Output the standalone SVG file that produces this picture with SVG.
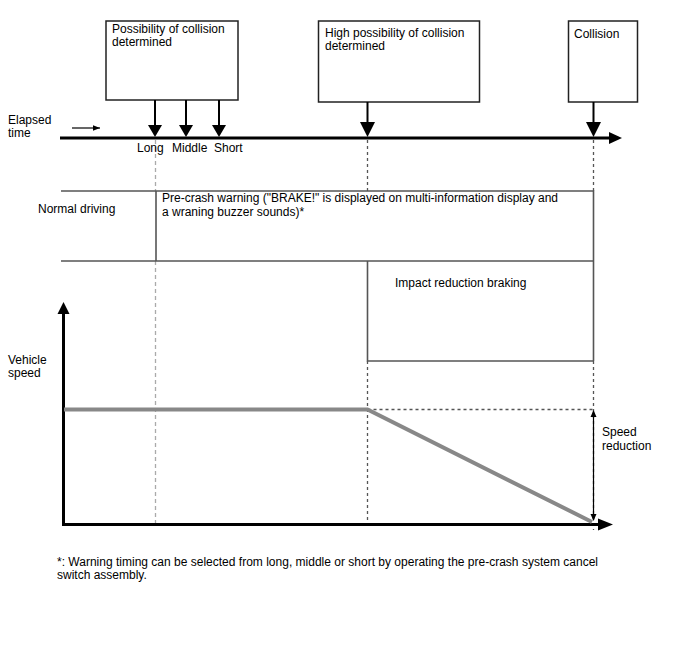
<svg xmlns="http://www.w3.org/2000/svg" width="688" height="658" viewBox="0 0 688 658">
<style>
text{font-family:"Liberation Sans",Arial,sans-serif;font-size:12px;fill:#000}
.box{fill:#fff;stroke:#222;stroke-width:1.5}
.band{fill:none;stroke:#555;stroke-width:1.6}
.arr{stroke:#000;stroke-width:2;fill:none}
.dashL{stroke:#aaa;stroke-width:1.3;stroke-dasharray:4 3;fill:none}
.dashD{stroke:#555;stroke-width:1.3;stroke-dasharray:3 3;fill:none}
.axis{stroke:#000;stroke-width:3;fill:none}
.speed{stroke:#888;stroke-width:4;fill:none}
</style>
<defs>
<marker id="sm" viewBox="0 0 10 10" refX="10" refY="5" markerWidth="6" markerHeight="6" orient="auto">
<path d="M0,1 L10,5 L0,9 z" fill="#000"/>
</marker>
</defs>
<rect width="688" height="658" fill="#fff"/>

<g id="guides">
<line class="dashL" x1="155.5" y1="140" x2="155.5" y2="191"/>
<line class="dashL" x1="155.5" y1="261" x2="155.5" y2="525"/>
<line class="dashD" x1="367.5" y1="140" x2="367.5" y2="191"/>
<line class="dashD" x1="367.5" y1="361" x2="367.5" y2="525"/>
<line class="dashD" x1="593.5" y1="140" x2="593.5" y2="191"/>
<line class="dashD" x1="593.5" y1="361" x2="593.5" y2="530"/>
<line class="dashD" x1="367.5" y1="409.5" x2="593.5" y2="409.5"/>
</g>

<g id="box-possibility">
<rect class="box" x="106" y="21" width="132" height="79"/>
<text x="112" y="33">Possibility of collision</text>
<text x="112" y="46">determined</text>
</g>
<g id="box-high">
<rect class="box" x="318.5" y="21" width="161" height="81"/>
<text x="325" y="37">High possibility of collision</text>
<text x="325" y="50">determined</text>
</g>
<g id="box-collision">
<rect class="box" x="568.5" y="21" width="69" height="81"/>
<text x="574" y="38">Collision</text>
</g>

<g id="timeline">
<text x="8" y="124">Elapsed</text>
<text x="8" y="137">time</text>
<line x1="72" y1="128" x2="100" y2="128" stroke="#000" stroke-width="1.2" marker-end="url(#sm)"/>
<line x1="60" y1="138" x2="610" y2="138" stroke="#000" stroke-width="3"/>
<path d="M609,132 L622,138 L609,144 z" fill="#000"/>
<text x="137" y="152">Long</text>
<text x="172" y="152">Middle</text>
<text x="214" y="152">Short</text>
</g>

<g id="connectors">
<line class="arr" x1="155" y1="100" x2="155" y2="126"/>
<path d="M148,125 L162,125 L155,137 z" fill="#000"/>
<line class="arr" x1="186" y1="100" x2="186" y2="126"/>
<path d="M179,125 L193,125 L186,137 z" fill="#000"/>
<line class="arr" x1="219" y1="100" x2="219" y2="126"/>
<path d="M212,125 L226,125 L219,137 z" fill="#000"/>
<line class="arr" x1="367.5" y1="102" x2="367.5" y2="124"/>
<path d="M360,122 L375,122 L367.5,137 z" fill="#000"/>
<line class="arr" x1="593.5" y1="102" x2="593.5" y2="124"/>
<path d="M586,122 L601,122 L593.5,137 z" fill="#000"/>
</g>

<g id="band-warning">
<polyline class="band" points="61,191 593.5,191 593.5,361"/>
<line class="band" x1="61" y1="261" x2="593.5" y2="261"/>
<line class="band" x1="156" y1="191" x2="156" y2="261"/>
<text x="38" y="213">Normal driving</text>
<text x="162" y="202">Pre-crash warning ("BRAKE!" is displayed on multi-information display and</text>
<text x="162" y="215.5">a wraning buzzer sounds)*</text>
</g>

<g id="band-braking">
<polyline class="band" points="367.5,261 367.5,361 593.5,361"/>
<text x="395" y="287">Impact reduction braking</text>
</g>

<g id="graph">
<line class="axis" x1="63.5" y1="312" x2="63.5" y2="525"/>
<path d="M57.5,314 L63.5,302 L69.5,314 z" fill="#000"/>
<line class="axis" x1="62" y1="524.5" x2="600" y2="524.5"/>
<path d="M598,518.5 L613,524.5 L598,530.5 z" fill="#000"/>
<text x="8" y="364">Vehicle</text>
<text x="8" y="377">speed</text>
<polyline class="speed" points="64,409.5 367.5,409.5 592,522"/>
<line x1="593.5" y1="412" x2="593.5" y2="519" stroke="#000" stroke-width="1.2"/>
<path d="M590.5,417 L593.5,410 L596.5,417 z" fill="#000"/>
<path d="M590.5,514 L593.5,521 L596.5,514 z" fill="#000"/>
<text x="602" y="436">Speed</text>
<text x="602" y="450">reduction</text>
</g>

<g id="footnote">
<text x="57" y="566" font-size="11" textLength="541" lengthAdjust="spacingAndGlyphs">*: Warning timing can be selected from long, middle or short by operating the pre-crash system cancel</text>
<text x="57" y="579" font-size="11">switch assembly.</text>
</g>
</svg>
